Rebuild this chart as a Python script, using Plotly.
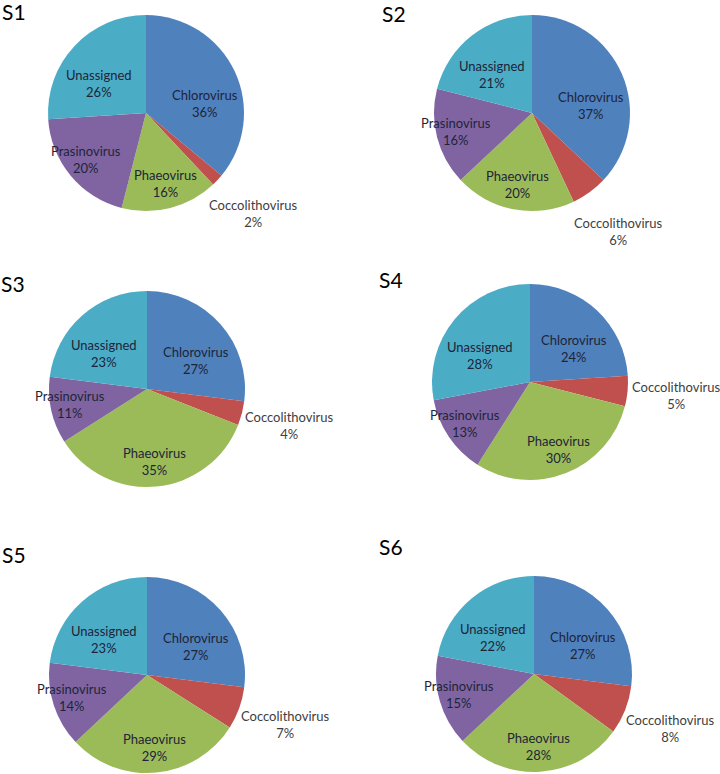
import math
import plotly.graph_objects as go

categories = ["Chlorovirus", "Coccolithovirus", "Phaeovirus", "Prasinovirus", "Unassigned"]
samples = ["S1", "S2", "S3", "S4", "S5", "S6"]
s1 = [36, 2, 16, 20, 26]
s2 = [37, 6, 20, 16, 21]
s3 = [27, 4, 35, 11, 23]
s4 = [24, 5, 30, 13, 28]
s5 = [27, 7, 29, 14, 23]
s6 = [27, 8, 28, 15, 22]
series = [s1, s2, s3, s4, s5, s6]

colors = ["#4F81BD", "#C0504D", "#9BBB59", "#8064A2", "#4BACC6"]
outside_flags = [False, True, False, False, False]

# ---- layout (pixels) ----
W, H = 720, 774
centres = [(146, 113), (532, 113), (147, 389), (530, 382), (147, 675), (534, 674)]
R = 98
title_pos = [(0, -3), (380, -1), (-1, 269), (377, 265), (0, 540), (377, 532)]
FONT = "Lato"
IN_COLOR = "#1e2438"
OUT_COLOR = "#404040"


def px(x):
    return x / W


def py(y):
    return 1 - y / H


def label_offset(angle, outside):
    """Offset (dx right, dy up) of a data label from the pie centre."""
    s, c = math.sin(angle), math.cos(angle)
    if outside:
        return 1.5 * R * s, 1.5 * R * c
    if c > 0:
        return 0.66 * R * s, R * (0.79 * c - 0.235)
    return 0.80 * R * s, 0.745 * R * c


fig = go.Figure()
for i, (name, vals) in enumerate(zip(samples, series)):
    cx, cy = centres[i]
    fig.add_trace(go.Pie(
        labels=categories, values=vals, name=name,
        sort=False, direction="clockwise", rotation=0,
        marker=dict(colors=colors, line=dict(width=0)),
        textinfo="none",
        domain=dict(x=[px(cx - R), px(cx + R)], y=[py(cy + R), py(cy - R)]),
        automargin=False,
        showlegend=False, hoverinfo="label+percent",
    ))
    total = float(sum(vals))
    cum = 0.0
    for lab, v, out in zip(categories, vals, outside_flags):
        mid = (cum + v / 2) / total * 2 * math.pi
        cum += v
        dx, dy = label_offset(mid, out)
        pct = round(v / total * 100)
        fig.add_annotation(
            text=f"{lab}<br>{pct}%", x=px(cx + dx), y=py(cy - dy),
            xref="paper", yref="paper",
            xanchor="center", yanchor="middle", showarrow=False,
            font=dict(family=FONT, size=13, color=OUT_COLOR if out else IN_COLOR))
    tx, ty = title_pos[i]
    fig.add_annotation(text=name, x=px(tx), y=py(ty), xref="paper", yref="paper",
                       xanchor="left", yanchor="top", showarrow=False,
                       font=dict(family=FONT, size=21, color="#000000"))

fig.update_layout(width=W, height=H,
                  margin=dict(l=0, r=0, t=0, b=0, pad=0, autoexpand=False),
                  paper_bgcolor="white", plot_bgcolor="white")
fig.write_html("out.html", config={"responsive": False, "displayModeBar": False},
               post_script="document.body.style.margin='0px';document.body.style.overflow='hidden';")
